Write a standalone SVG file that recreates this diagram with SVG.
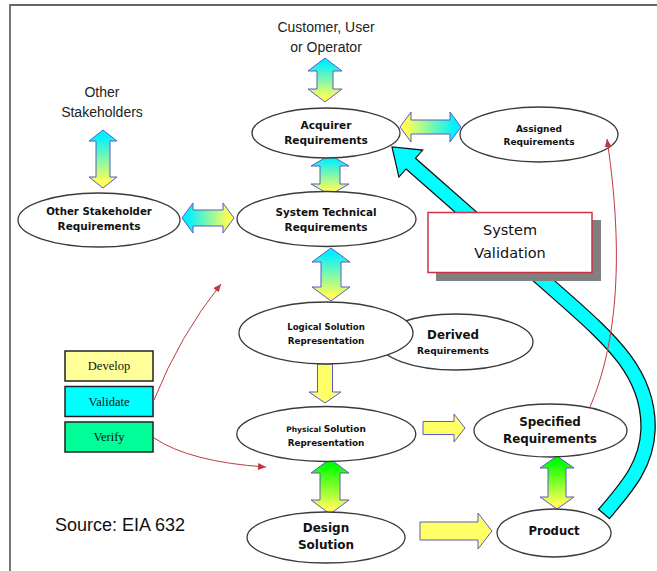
<svg xmlns="http://www.w3.org/2000/svg" width="657" height="571" viewBox="0 0 657 571">
<style>
.node ellipse{fill:#fff;stroke:#3a3a3a;stroke-width:1.3}
.lbl{font-family:"DejaVu Sans",Verdana,sans-serif;font-weight:bold;fill:#111;text-anchor:middle}
.plain{font-family:"Liberation Sans",Arial,sans-serif;fill:#222;text-anchor:middle;font-size:14px}
.ser{font-family:"Liberation Serif","Times New Roman",serif;font-size:12.5px;text-anchor:middle;fill:#111}
.arr{stroke:#5a5ac8;stroke-width:1}
.red{fill:none;stroke:#c0393f;stroke-width:1}
.box{stroke:#222;stroke-width:1.5}
</style>
<defs>
<linearGradient id="cy" x1="0" y1="0" x2="0" y2="1"><stop offset="0.1" stop-color="#00f0ff"/><stop offset="0.9" stop-color="#ffff55"/></linearGradient>
<linearGradient id="gy" x1="0" y1="0" x2="0" y2="1"><stop offset="0.1" stop-color="#00ff00"/><stop offset="0.9" stop-color="#ffff55"/></linearGradient>
<linearGradient id="yc" x1="0" y1="0" x2="1" y2="0"><stop offset="0.1" stop-color="#ffff55"/><stop offset="0.9" stop-color="#00f0ff"/></linearGradient>
<linearGradient id="ch" x1="0" y1="0" x2="1" y2="0"><stop offset="0.1" stop-color="#00f0ff"/><stop offset="0.9" stop-color="#ffff55"/></linearGradient>
<marker id="rh" markerUnits="userSpaceOnUse" markerWidth="9" markerHeight="8" refX="8" refY="3.5" orient="auto"><path d="M0,0 L8,3.5 L0,7 Z" fill="#c0393f"/></marker>
</defs>
<rect width="657" height="571" fill="#fff"/>
<path d="M10,571 L10,5 L657,5" fill="none" stroke="#666" stroke-width="1.8"/>

<g id="connectors">
  <path class="arr" fill="url(#cy)" d="M325,58 L342,71 L333,71 L333,89 L342,89 L325,102 L308,89 L317,89 L317,71 L308,71 Z"/>
  <path class="arr" fill="url(#cy)" d="M103,130 L117,141 L110,141 L110,177 L117,177 L103,188 L89,177 L96,177 L96,141 L89,141 Z"/>
  <path class="arr" fill="url(#cy)" d="M330,155 L349,166 L340,166 L340,184 L349,184 L330,195 L311,184 L320,184 L320,166 L311,166 Z"/>
  <path class="arr" fill="url(#cy)" d="M331,248 L350,262 L341,262 L341,287 L350,287 L331,301 L312,287 L321,287 L321,262 L312,262 Z"/>
  <path class="arr" fill="url(#gy)" d="M330,459 L349,473 L340,473 L340,500 L349,500 L330,514 L311,500 L320,500 L320,473 L311,473 Z"/>
  <path class="arr" fill="url(#gy)" d="M557,456 L574,468 L566,468 L566,497 L574,497 L557,509 L540,497 L548,497 L548,468 L540,468 Z"/>
  <path class="arr" fill="url(#yc)" d="M400,127 L411,112 L411,120 L450,120 L450,112 L461,127 L450,142 L450,134 L411,134 L411,142 Z"/>
  <path class="arr" fill="url(#ch)" d="M182,218 L193,203 L193,210 L223,210 L223,203 L234,218 L223,233 L223,226 L193,226 L193,233 Z"/>
  <path class="arr" fill="#ffff66" d="M317.5,364 L332.5,364 L332.5,392 L341,392 L325,403 L309,392 L317.5,392 Z"/>
  <path class="arr" fill="#ffff66" d="M423,421.5 L454,421.5 L454,414 L465,428 L454,442 L454,434.5 L423,434.5 Z"/>
  <path class="arr" fill="#ffff66" d="M420,522 L478,522 L478,513 L492,531 L478,549 L478,540 L420,540 Z"/>
  <path d="M410.8,163.6 L560,295 C612.6,341.3 650,375 648,430 C646.7,466 625,489 604,514" fill="none" stroke="#111" stroke-width="15.5"/>
  <polygon points="392,147 398.9,177.1 422.7,150.1" fill="#00ffff" stroke="#111" stroke-width="1.2"/>
  <path d="M409.3,162.3 L560,295 C612.6,341.3 650,375 648,430 C646.7,466 625,489 604,514" fill="none" stroke="#00ffff" stroke-width="13"/>
  <line x1="598.1" y1="509" x2="609.9" y2="519" stroke="#111" stroke-width="1.2"/>
</g>

<g id="customer"><text class="plain" x="326" y="32">Customer, User</text><text class="plain" x="326" y="52">or Operator</text></g>
<g id="other-stakeholders"><text class="plain" x="102" y="97">Other</text><text class="plain" x="102" y="117">Stakeholders</text></g>

<g id="acquirer" class="node"><ellipse cx="326" cy="133" rx="74" ry="25"/><text class="lbl" font-size="10.6" x="326" y="129">Acquirer</text><text class="lbl" font-size="10.6" x="326" y="144">Requirements</text></g>
<g id="assigned" class="node"><ellipse cx="539" cy="134.5" rx="79" ry="27.5"/><text class="lbl" font-size="9" x="539" y="132">Assigned</text><text class="lbl" font-size="9" x="539" y="145">Requirements</text></g>
<g id="other-req" class="node"><ellipse cx="99" cy="220" rx="81" ry="27"/><text class="lbl" font-size="10.2" x="99" y="215">Other Stakeholder</text><text class="lbl" font-size="10.5" x="99" y="230">Requirements</text></g>
<g id="systech" class="node"><ellipse cx="326.5" cy="219" rx="89.5" ry="27.5"/><text class="lbl" font-size="10.4" x="326" y="216">System Technical</text><text class="lbl" font-size="10.5" x="326" y="231">Requirements</text></g>
<g id="derived" class="node"><ellipse cx="456" cy="342" rx="77" ry="28"/><text class="lbl" font-size="11.8" x="453" y="339">Derived</text><text class="lbl" font-size="9.1" x="453" y="354">Requirements</text></g>
<g id="logical" class="node"><ellipse cx="326" cy="333" rx="87" ry="31"/><text class="lbl" font-size="8.6" x="326" y="330">Logical Solution</text><text class="lbl" font-size="8.8" x="326" y="343.5">Representation</text></g>
<g id="physical" class="node"><ellipse cx="326.3" cy="434" rx="89.5" ry="27.5"/><text class="lbl" x="326" y="432"><tspan font-size="7.5">Physical </tspan><tspan font-size="9">Solution</tspan></text><text class="lbl" font-size="8.8" x="326" y="445.5">Representation</text></g>
<g id="specified" class="node"><ellipse cx="550.5" cy="430.5" rx="76.5" ry="26.5"/><text class="lbl" font-size="11.9" x="550" y="426">Specified</text><text class="lbl" font-size="11.9" x="550" y="443">Requirements</text></g>
<g id="design" class="node"><ellipse cx="326" cy="537.5" rx="79" ry="25.5"/><text class="lbl" font-size="12" x="326" y="532">Design</text><text class="lbl" font-size="12" x="326" y="549">Solution</text></g>
<g id="product" class="node"><ellipse cx="554" cy="533" rx="57" ry="24"/><text class="lbl" font-size="11.6" x="554" y="535">Product</text></g>

<g id="validation">
  <rect x="436" y="220" width="165" height="61" fill="#808080"/>
  <rect x="428" y="212.5" width="164" height="60" fill="#fff" stroke="#cc3344" stroke-width="1.5"/>
  <text x="510" y="235" font-family="'DejaVu Sans',Verdana,sans-serif" font-size="14.5" text-anchor="middle" fill="#111">System</text>
  <text x="510" y="257.5" font-family="'DejaVu Sans',Verdana,sans-serif" font-size="14.5" text-anchor="middle" fill="#111">Validation</text>
</g>

<g id="legend">
  <g id="develop"><rect class="box" x="65" y="351" width="88" height="30" fill="#ffff99"/><text class="ser" x="109" y="370">Develop</text></g>
  <g id="validate"><rect class="box" x="65" y="386.5" width="88" height="30" fill="#00ffff"/><text class="ser" x="109" y="405.5">Validate</text></g>
  <g id="verify"><rect class="box" x="65" y="422" width="88" height="30" fill="#00ff99"/><text class="ser" x="109" y="441">Verify</text></g>
</g>

<g id="source"><text x="55" y="531" font-family="'Liberation Sans',Arial,sans-serif" font-size="18" fill="#111">Source: EIA 632</text></g>

<g id="connectors-red">
  <path class="red" d="M154,400 Q180,335 221,284" marker-end="url(#rh)"/>
  <path class="red" d="M154,438 Q190,462 266,467" marker-end="url(#rh)"/>
  <path class="red" d="M590,407 C610,360 628,280 607,139" marker-end="url(#rh)"/>
</g>
</svg>
